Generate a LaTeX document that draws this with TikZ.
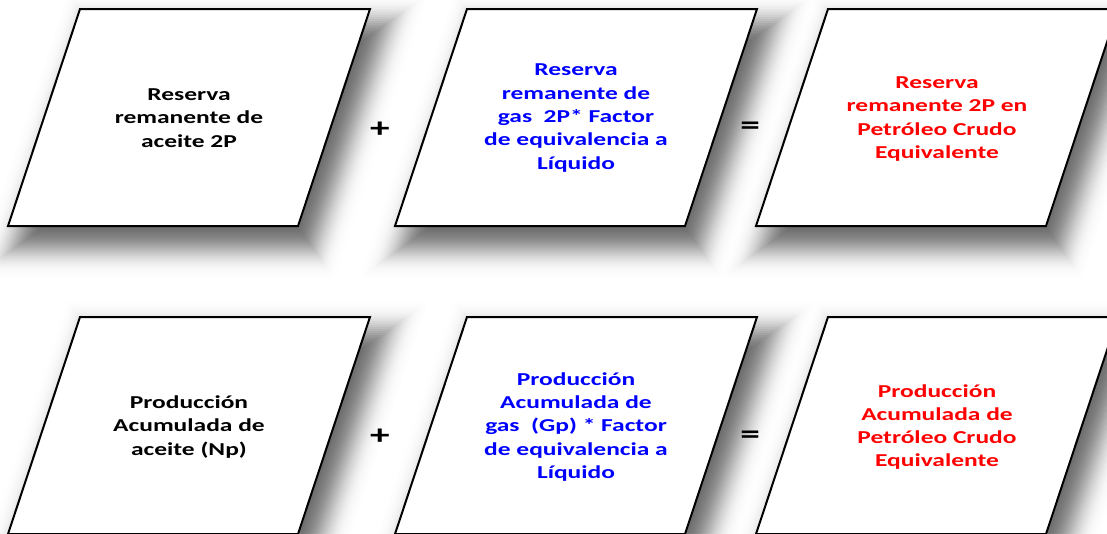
\documentclass[tikz,border=0pt]{standalone}
\usepackage{fontspec}
\setmainfont{Carlito}
\newfontfamily\cajafont[FakeStretch=1.4]{Carlito}

\definecolor{azul}{RGB}{0,0,255}
\definecolor{rojo}{RGB}{255,0,0}

\tikzset{
  caja/.style={draw=black, line width=2pt, line join=miter, fill=white},
  texto/.style={align=center, font=\cajafont\bfseries\fontsize{18.2}{23.3}\selectfont},
  signo/.style={font=\cajafont\bfseries\fontsize{28}{28}\selectfont}
}

\begin{document}
\begin{tikzpicture}[x=1pt,y=-1pt]

\clip (0,0) rectangle (1107,533);
\fill[white] (0,0) rectangle (1107,533);

% soft shadows: stacked insets of the shifted shape
\foreach \y in {9,317}{
  \foreach \x in {80,467,828}{
    \foreach \r in {-40,-38,...,40}{
      \pgfmathsetmacro{\op}{0.05*exp(-((\r)*(\r))/400)}
      \fill[black, fill opacity=\op]
        ({\x+12+0.722*(\r)},{\y+18+(\r)}) -- ++({290-2.108*(\r)},0)
        -- ++({-0.332*(217-2*(\r))},{217-2*(\r)}) -- ++({-290+2.108*(\r)},0) -- cycle;
    }
  }
}

% parallelograms
\foreach \y in {9,317}
  \foreach \x in {80,467,828}
    \draw[caja] (\x,\y) -- ++(290,0) -- ++(-72,217) -- ++(-290,0) -- cycle;

% first row
\node[texto] (aceite2p) at (189,118) {Reserva\\remanente de\\aceite 2P};
\node[texto,azul] (gas2p) at (576,118) {Reserva\\remanente de\\gas\ \ 2P* Factor\\de equivalencia a\\Líquido};
\node[texto,rojo] (pce2p) at (937,119) {Reserva\\remanente 2P en\\Petróleo Crudo\\Equivalente};

\node[signo] (mas1) at (380,130) {+};
\node[signo] (igual1) at (750,128) {=};

% second row
\node[texto] (aceitenp) at (189,427) {Producción\\Acumulada de\\aceite (Np)};
\node[texto,azul] (gasgp) at (576,427) {Producción\\Acumulada de\\gas\ \ (Gp) * Factor\\de equivalencia a\\Líquido};
\node[texto,rojo] (pceacum) at (937,427) {Producción\\Acumulada de\\Petróleo Crudo\\Equivalente};

\node[signo] (mas2) at (380,437) {+};
\node[signo] (igual2) at (750,437) {=};

\end{tikzpicture}
\end{document}
